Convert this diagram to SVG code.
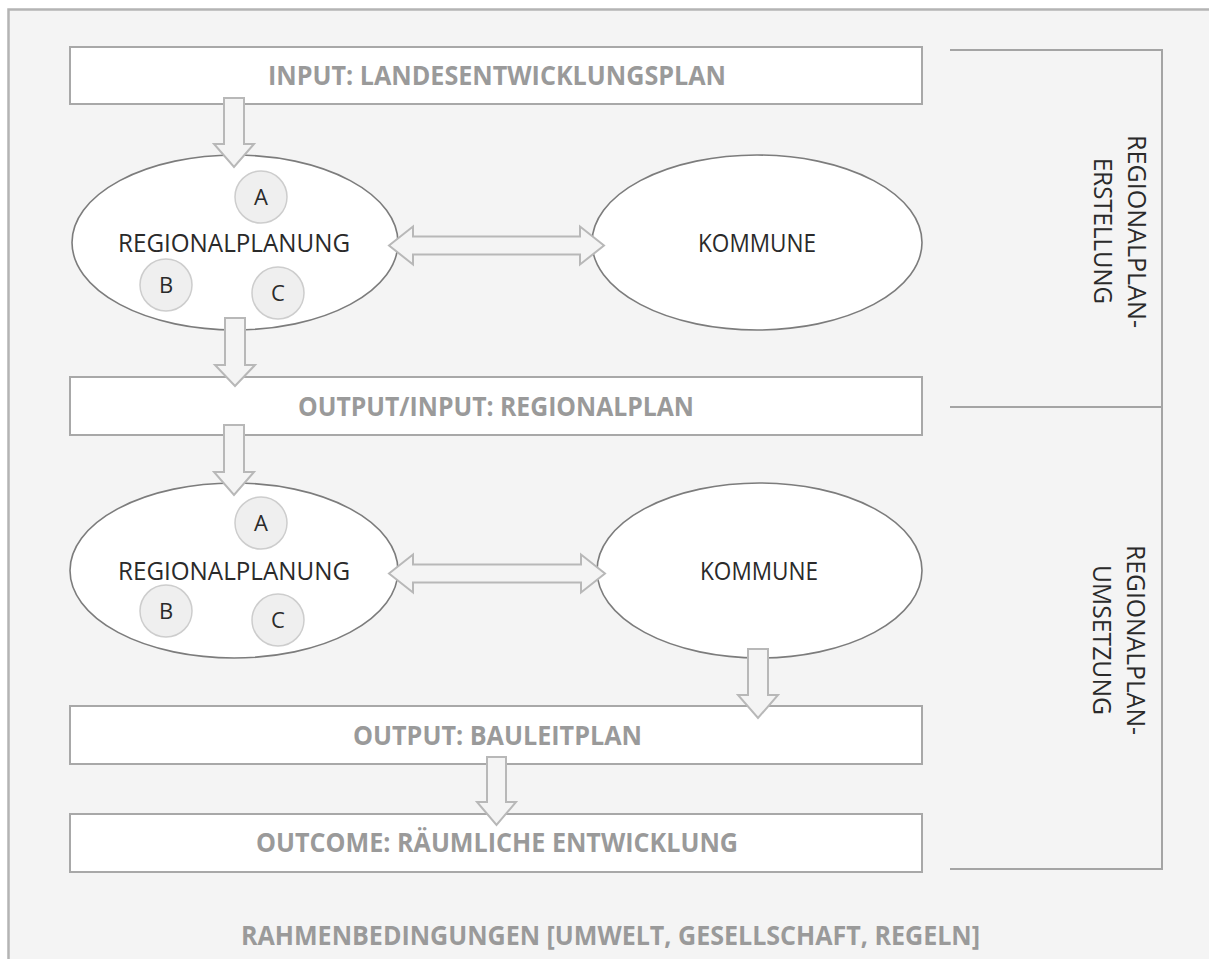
<svg xmlns="http://www.w3.org/2000/svg" width="1209" height="959" viewBox="0 0 1209 959">
<style>
.frame{fill:#f4f4f4;stroke:#b4b4b4;stroke-width:2.5}
.box{fill:#ffffff;stroke:#a8a8a8;stroke-width:2}
.ell{fill:#ffffff;stroke:#7c7c7c;stroke-width:1.6}
.sub{fill:#efefef;stroke:#cdcdcd;stroke-width:1.5}
.arr{fill:#f4f4f4;stroke:#b8b8b8;stroke-width:2;stroke-linejoin:miter}
.brk{fill:none;stroke:#a4a4a4;stroke-width:2}
.bt{font-family:"Open Sans","Liberation Sans",sans-serif;font-weight:bold;font-size:26px;fill:#9a9a9a;text-anchor:middle}
.lt{font-family:"Open Sans","Liberation Sans",sans-serif;font-size:25px;fill:#2a2a2a;text-anchor:middle}
.st{font-family:"Open Sans","Liberation Sans",sans-serif;font-size:22px;fill:#2a2a2a;text-anchor:middle}
</style>
<rect class="frame" x="8.5" y="9.5" width="1215" height="965"/>

<g id="bracket">
<polyline class="brk" points="950,50 1162,50 1162,869 950,869"/>
<line class="brk" x1="950" y1="407" x2="1162" y2="407"/>
<text class="lt" transform="translate(1128,231.5) rotate(90)" textLength="193" lengthAdjust="spacingAndGlyphs">REGIONALPLAN-</text>
<text class="lt" transform="translate(1094,231) rotate(90)" textLength="146" lengthAdjust="spacingAndGlyphs">ERSTELLUNG</text>
<text class="lt" transform="translate(1127,640) rotate(90)" textLength="190" lengthAdjust="spacingAndGlyphs">REGIONALPLAN-</text>
<text class="lt" transform="translate(1093,640) rotate(90)" textLength="150" lengthAdjust="spacingAndGlyphs">UMSETZUNG</text>
</g>

<g id="input">
<rect class="box" x="70" y="47" width="852" height="57"/>
<text class="bt" x="497" y="85" textLength="458" lengthAdjust="spacingAndGlyphs">INPUT: LANDESENTWICKLUNGSPLAN</text>
</g>

<g id="regionalplanung1">
<ellipse class="ell" cx="235" cy="242.5" rx="163" ry="87.5"/>
<circle class="sub" cx="261" cy="197" r="26"/>
<text class="st" x="261" y="205">A</text>
<circle class="sub" cx="166" cy="285" r="26"/>
<text class="st" x="166" y="293">B</text>
<circle class="sub" cx="278" cy="293" r="26"/>
<text class="st" x="278" y="301">C</text>
<text class="lt" x="234" y="252" textLength="232" lengthAdjust="spacingAndGlyphs">REGIONALPLANUNG</text>
</g>

<g id="kommune1">
<ellipse class="ell" cx="757" cy="242.5" rx="165" ry="87.5"/>
<text class="lt" x="757" y="252" textLength="118" lengthAdjust="spacingAndGlyphs">KOMMUNE</text>
</g>

<g id="output-input">
<rect class="box" x="70" y="377" width="852" height="58"/>
<text class="bt" x="496" y="416" textLength="396" lengthAdjust="spacingAndGlyphs">OUTPUT/INPUT: REGIONALPLAN</text>
</g>

<g id="regionalplanung2">
<ellipse class="ell" cx="234" cy="570.5" rx="164" ry="87.5"/>
<circle class="sub" cx="261" cy="523" r="26"/>
<text class="st" x="261" y="531">A</text>
<circle class="sub" cx="166" cy="611" r="26"/>
<text class="st" x="166" y="619">B</text>
<circle class="sub" cx="278" cy="620" r="26"/>
<text class="st" x="278" y="628">C</text>
<text class="lt" x="234" y="580" textLength="232" lengthAdjust="spacingAndGlyphs">REGIONALPLANUNG</text>
</g>

<g id="kommune2">
<ellipse class="ell" cx="759.5" cy="570.5" rx="162.5" ry="87.5"/>
<text class="lt" x="759" y="580" textLength="118" lengthAdjust="spacingAndGlyphs">KOMMUNE</text>
</g>

<g id="output">
<rect class="box" x="70" y="706" width="852" height="58"/>
<text class="bt" x="497.5" y="745" textLength="289" lengthAdjust="spacingAndGlyphs">OUTPUT: BAULEITPLAN</text>
</g>

<g id="outcome">
<rect class="box" x="70" y="814" width="852" height="58"/>
<text class="bt" x="497" y="852" textLength="482" lengthAdjust="spacingAndGlyphs">OUTCOME: RÄUMLICHE ENTWICKLUNG</text>
</g>

<g id="connectors">
<polygon class="arr" points="224,98 244,98 244,144 254,144 234,167 214,144 224,144"/>
<polygon class="arr" points="225,318 245,318 245,365 255,365 235,386 215,365 225,365"/>
<polygon class="arr" points="224,425 244,425 244,472 254,472 234,495 214,472 224,472"/>
<polygon class="arr" points="748,649 768,649 768,695 778,695 758,718 738,695 748,695"/>
<polygon class="arr" points="487,757 506,757 506,802 516,802 496.5,825 477,802 487,802"/>
<polygon class="arr" points="389,245.5 413,226.5 413,236.5 580,236.5 580,226.5 604,245.5 580,264.5 580,254.5 413,254.5 413,264.5"/>
<polygon class="arr" points="389,573.5 413,554.5 413,564.5 581,564.5 581,554.5 605,573.5 581,592.5 581,582.5 413,582.5 413,592.5"/>
</g>

<g id="rahmen">
<text class="bt" x="610.5" y="945" textLength="739" lengthAdjust="spacingAndGlyphs">RAHMENBEDINGUNGEN [UMWELT, GESELLSCHAFT, REGELN]</text>
</g>
</svg>
